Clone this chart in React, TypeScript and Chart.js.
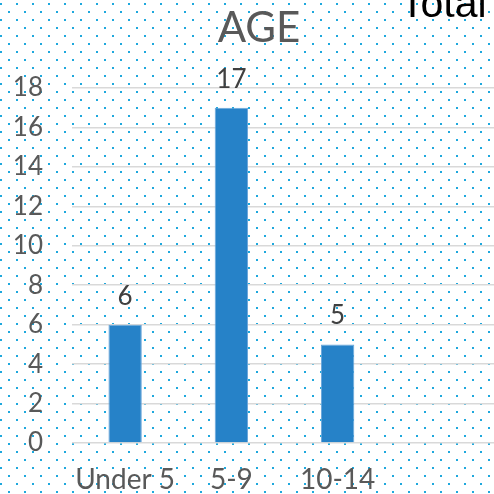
import React, { useEffect, useRef } from "react";
import { Chart, registerables } from "chart.js";

Chart.register(...registerables);

const chartTitle = "AGE";
const seriesName = "Total";
const categories = ["Under 5", "5-9", "10-14", ""];
const totals: (number | null)[] = [6, 17, 5, null];
const yMin = 0;
const yMax = 18;
const yStep = 2;

const TEXT_GRAY = "#595959";
const FONT = "Lato, 'Open Sans', sans-serif";

const backgroundPlugin = {
  id: "dotBackground",
  beforeDraw(chart: any) {
    const { ctx, width, height } = chart;
    ctx.save();
    ctx.fillStyle = "#ffffff";
    ctx.fillRect(0, 0, width, height);
    ctx.fillStyle = "#1ea8dd";
    for (let y = 3; y < height; y += 16) {
      for (let x = 0; x < width; x += 16) {
        ctx.fillRect(x, y, 2, 2);
      }
    }
    for (let y = 11; y < height; y += 16) {
      for (let x = 8; x < width; x += 16) {
        ctx.fillRect(x, y, 2, 2);
      }
    }
    ctx.restore();
  },
};

const textPlugin = {
  id: "textOverlay",
  afterDatasetsDraw(chart: any) {
    const { ctx } = chart;
    ctx.save();
    const meta = chart.getDatasetMeta(0);
    ctx.fillStyle = "#404040";
    ctx.font = `26px ${FONT}`;
    ctx.textAlign = "center";
    ctx.textBaseline = "alphabetic";
    meta.data.forEach((bar: any, i: number) => {
      const v = chart.data.datasets[0].data[i];
      if (v === null || v === undefined) return;
      ctx.fillText(String(v), bar.x, bar.y - 20);
    });
    ctx.fillStyle = TEXT_GRAY;
    ctx.font = `42px ${FONT}`;
    ctx.fillText(chartTitle, 259, 42);
    ctx.fillStyle = "#000000";
    ctx.font = "41px 'Liberation Sans', Arial, sans-serif";
    ctx.textAlign = "left";
    ctx.fillText(chart.data.datasets[0].label, 400, 17);
    ctx.restore();
  },
};

export default function App() {
  const ref = useRef<HTMLCanvasElement | null>(null);
  useEffect(() => {
    if (!ref.current) return;
    const chart = new Chart(ref.current, {
      type: "bar",
      data: {
        labels: categories,
        datasets: [
          {
            label: seriesName,
            data: totals,
            backgroundColor: "#2682c8",
            borderColor: "#6aa6da",
            borderWidth: 1,
            categoryPercentage: 1,
            barPercentage: 0.314,
          },
        ],
      },
      options: {
        animation: false,
        responsive: false,
        devicePixelRatio: 1,
        layout: { padding: { top: 88, left: 0, right: 0, bottom: 0 } },
        plugins: {
          legend: { display: false },
          title: { display: false },
          tooltip: { enabled: false },
        },
        scales: {
          x: {
            grid: { display: false, drawTicks: false },
            border: { display: false },
            ticks: {
              color: TEXT_GRAY,
              font: { family: FONT, size: 28 },
              padding: 20,
              maxRotation: 0,
              autoSkip: false,
            },
            afterFit(scale: any) {
              scale.height = 51;
            },
          },
          y: {
            min: yMin,
            max: yMax,
            grid: { color: "#d9d9d9", lineWidth: 1.5, drawTicks: false },
            border: { display: false },
            ticks: {
              stepSize: yStep,
              color: TEXT_GRAY,
              font: { family: FONT, size: 26 },
              padding: 29,
            },
            afterFit(scale: any) {
              scale.width = 72;
            },
          },
        },
      },
      plugins: [backgroundPlugin, textPlugin],
    });
    return () => chart.destroy();
  }, []);
  return (
    <div
      style={{
        position: "fixed",
        left: 0,
        top: 0,
        width: 494,
        height: 494,
        overflow: "hidden",
        background: "#fff",
      }}
    >
      <canvas ref={ref} width={497} height={494} style={{ display: "block" }} />
    </div>
  );
}
